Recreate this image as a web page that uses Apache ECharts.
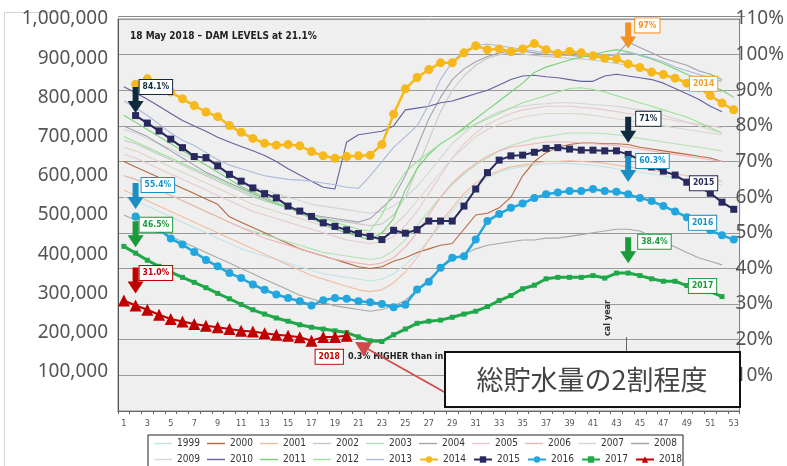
<!DOCTYPE html>
<html><head><meta charset="utf-8">
<script src="https://cdn.jsdelivr.net/npm/echarts@6/dist/echarts.min.js"></script>
<style>html,body{margin:0;padding:0;background:#fff}#c{width:787px;height:466px}</style>
</head><body><div id="c"></div>
<script>
const weeks = ['1','2','3','4','5','6','7','8','9','10','11','12','13','14','15','16','17','18','19','20','21','22','23','24','25','26','27','28','29','30','31','32','33','34','35','36','37','38','39','40','41','42','43','44','45','46','47','48','49','50','51','52','53'];
const leftTicks = [0,100000,200000,300000,400000,500000,600000,700000,800000,900000,1000000];
const pctTicks = [0,10,20,30,40,50,60,70,80,90,100,110];

const y1999 = [60,59,57.5,56,54.5,53,51.5,50,48.5,47,45.5,44.5,43.5,42.5,41.5,40.5,39.5,38.5,38,37.5,37,36.5,37,38.5,41,44,48,52,56,60,63,65.5,67,68,68.5,69,69.3,69.5,69.5,69.2,69,68.5,68,67.5,67,66.5,66,65.5,65,64.5,64,63.5,null];
const y2000 = [70,68.5,67,65.5,64,62.5,61,59.5,58,54.5,53,51.5,50,48.5,47,45.5,44.5,43.5,42.5,41.5,40.5,40,40.5,42,43,44.5,45.5,46.5,47,51,55,55.5,57,60,66,70,72.5,74,74.8,75.2,75.2,75,75,74.8,74,73.5,73,72.5,72,71.5,71,70,null];
const y2001 = [62,60.5,59,57.5,56,54.5,53,51.5,50,48.5,47,45.5,44,42.5,41,39.5,38,37,36,35,34,33.5,34,36,39,43,48,53,57,61,64,66,67.5,68.5,69,69.5,70,70,70.2,70,69.8,69.5,69,68.5,68,67.5,67,66.5,66,65.5,65,64.5,null];
const y2002 = [76,75,73.5,72,70.5,69,67.5,66,64.5,63,61.5,60,59,58,57,56,55,54,53.5,53,52.5,52,52.5,55,60,68,76,84,90,94,97,99,100,100.5,100.2,99.8,99.5,99.2,99,98.8,98.5,98,97.5,97,96.5,95.5,94.5,93.5,92.5,91.5,90.5,89.5,null];
const y2003 = [66,65,63.5,62,60.5,59,57.5,56,54.5,53,51.5,50.5,49.5,48.5,47.5,46.5,45.5,44.5,44,43.5,43,42.5,43,45,48,52,56,60,63.5,66.5,69,71,73,74.5,75.5,76.5,77,77.5,78,78,78,77.8,77.5,77,76.5,76,75.5,75,74.5,74,73.5,73,null];
const y2004 = [55,53.5,52,50.5,49,47.5,46,44.5,43,41.5,40,38.5,37,35.5,34,32.5,31.5,30.5,29.5,29,28.5,28,28.5,29.5,31,34,37,40,42.5,44,45.5,46.5,47,47.5,48,48,48.5,48.5,49,49.5,50,50.5,51,51,50.5,49,47.5,46,44.5,43,42,41,null];
const y2005 = [72,71,69.5,68,66.5,65,63.5,62,60.5,59,57.5,56,55,54,53,52,51,50,49,48,47.5,47,47.5,49,52,56,61,66,71,75,78,80.5,82,83.5,84.5,85,85.5,85.5,85.5,85.2,85,84.5,84,83.5,83,82.5,82,81.5,81,80.5,80,79.5,null];
const y2006 = [66,65,63.5,62,60.5,59,57.5,56,54.5,53,51.5,50,48.5,47.5,46.5,45.5,44.5,43.5,42.5,42,41.5,41,41.5,43,46,50,55,60,64,67,69.5,71.5,73,74,74.5,75,75.5,75.5,75.5,75.2,75,74.8,74.5,74,73.5,73,72.5,72,71.5,71,70.5,70,null];
const y2007 = [79,78,76.5,75,73.5,72,70.5,69,67.5,66,64.5,63,62,61,60,59,58,57.5,57,56.5,56,55.5,56,57.5,60,63,67,71,75,78,80.5,82.5,84,85,85.5,86,86.2,86.5,86.5,86.3,86,85.8,85.5,85,84.5,84,83,82,81,80,79,78,null];
const y2008 = [80,78.5,77,75,73,71,69,67,65.5,64,62.5,61,59.5,58,57,56,55,54.5,54,53.5,53,54,57,60,66,74,82,88,93,96,98,99.5,100.5,101,101,100.5,100,100,99.8,99.5,99.5,99.5,100,103.5,102,100.5,99,98,97,95.5,94.5,93,null];
const y2009 = [74,73,71.5,70,68.5,67,65.5,64,62.5,61,59.5,58,57,56,55,54,53,52,51,50.5,50,49.5,50,52,55,59,63,67,71,74,77,79,80.5,81.5,82.5,83,83.5,83.5,83.5,83.3,83,82.5,82,81.5,81,80.5,80,79.5,79,78.5,78,77.5,null];
const y2010 = [91,89.3,87.5,85.5,83.5,81.5,80,78.5,76.8,75.5,74.2,73,71.7,70,68,66.2,64.5,62.8,62.3,75.5,77.5,78,78.5,80,84.5,85,85.5,86.5,87,88,89,90,91.5,93,94,94.2,93.8,93.5,93,92.5,92.5,94,94.5,94,93.5,93,92,90.5,89,87.5,85.5,84,null];
const y2011 = [83,81,79,77,75,73,71,69,67,65,63,61.5,60,58.5,57,55.5,54,52.5,51,50,49,48,50,54,62,68,72,75,77,79.5,82,84.5,87,89.5,92,95,96.5,97.5,98.5,99.3,100,100.8,101.4,100.8,99.8,98.8,97.5,96,94.5,93,91.5,90,88];
const y2012 = [77,75.5,74,72.5,71,69.5,68,66.5,65,63.5,62,60.5,59,58,57,56,55,54,53,52,51,50.5,55,62,67,70,72.5,75,77,79,80.5,82,83.5,85,86.5,87.5,88.5,89.5,90.5,90.7,90.2,89.5,88.5,87.5,86.5,85.5,84.5,83.5,82.5,81,79.5,78,null];
const y2013 = [87,85,83,80.5,78,76,74.5,72.5,70.5,69,68,67,66,65.5,65,64.8,64.5,64,63.5,62.8,62.5,66,70,74,77,80,86,93,98,101,102.5,103,102.5,102,101.5,101,100.5,100.8,100.5,100.2,100,99.8,100,100.5,100,99,98,96.5,95.5,94.5,93.5,92.5,null];
const y2014 = [null,91.7,93.2,92.0,89.5,87.6,85.7,83.9,82.6,80.1,78.2,76.5,75.1,74.6,74.8,74.4,72.8,71.6,70.9,71.4,71.6,71.8,74.8,83.3,90.4,93.6,95.8,97.7,97.7,100.5,102.5,101.4,101.6,100.8,101.6,103.1,101.4,100.3,100.9,100.5,99.7,99.0,98.8,97.4,96.4,95.1,94.4,93.4,92.0,90.7,88.5,86.4,84.5];
const y2015 = [null,82.9,80.8,78.6,76.3,73.9,71.4,71.1,68.8,66.4,64.5,62.6,61.0,59.8,57.5,56.1,54.6,52.8,51.8,50.8,49.8,49.0,48.1,50.7,49.9,50.9,53.3,53.3,53.3,57.5,62.3,66.9,70.4,71.6,71.8,72.6,73.7,73.9,73.5,73.2,73.2,73.0,73.0,72.0,70.5,68.5,67.3,66.2,64.2,63.0,61.1,58.6,56.6];
const y2016 = [null,54.6,53,51,48.4,46.7,44.6,42.4,40.6,38.7,37.3,35.5,34.0,32.7,31.7,30.8,29.6,31.1,31.7,31.5,30.8,30.5,30.0,29.1,29.8,34.1,36.3,40.2,43.0,43.4,48.1,53.3,55.3,57.0,58.2,59.8,60.8,61.3,61.7,61.7,62.3,61.7,61.5,60.8,59.8,58.9,57.5,56.0,54.4,52.5,50.7,49.3,48.1];
const y2017 = [46.2,44.3,42.3,40.6,39.0,37.5,36.1,34.6,33.0,31.5,29.9,28.4,27.2,26.1,25.2,24.2,23.5,23.0,22.5,22.0,20.8,19.7,19.5,21.4,23.0,24.6,25.2,25.5,26.3,27.2,28.0,29.3,31.0,32.4,34.3,35.3,37.1,37.5,37.5,37.5,38.0,37.3,38.7,38.7,38.0,37.1,36.4,36.4,35.2,34.4,33.5,32.1,null];
const y2018 = [31.0,29.6,28.4,27.0,25.8,25.1,24.4,23.9,23.5,23.0,22.5,22.3,21.8,21.4,21.1,20.7,19.7,20.8,20.8,21.1];

const years = ['1999','2000','2001','2002','2003','2004','2005','2006','2007','2008','2009','2010','2011','2012','2013','2014','2015','2016','2017','2018'];
const thinData = [y1999,y2000,y2001,y2002,y2003,y2004,y2005,y2006,y2007,y2008,y2009,y2010,y2011,y2012,y2013];
const thinColors = ['#c2e4e4','#b5693f','#f2bca2','#c8c8c8','#b4e2b4','#a8a8a8','#e8caca','#f0b4b4','#d4d4d4','#a0a0b0','#ddd4ca','#62629e','#74d274','#9ae29a','#aabada'];

const NARROW = '"Liberation Sans Narrow","DejaVu Sans Condensed",sans-serif';
const ARROW = 'path://M5,0 L11,0 L11,14 L16,14 L8,26 L0,14 L5,14 Z';
const LINE_ICON = 'path://M0,0 L18,0 L18,1.4 L0,1.4 Z';

function arrowPt(week, val, color, text, off){
  return {coord:[week, val], symbol:ARROW, symbolSize:[16,26], itemStyle:{color:color},
    label:{show:true, position:'right', distance:0, offset:off, formatter:text,
      color:color, fontSize:8.5, fontWeight:'bold', fontFamily:NARROW,
      backgroundColor:'#fff', borderColor:color, borderWidth:1, padding:[3,3,2,3]}};
}
function yearPt(week, val, color, text, off){
  return {coord:[week, val], symbol:'circle', symbolSize:1, itemStyle:{color:'rgba(0,0,0,0)'},
    label:{show:true, position:'inside', offset:off||[0,0], formatter:text,
      color:color, fontSize:8.5, fontWeight:'bold', fontFamily:NARROW,
      backgroundColor:'#fff', borderColor:color, borderWidth:1, padding:[3,3,2,3]}};
}

const notes = [
  arrowPt('44',105.4,'#f39222','97%',[-1,-10]), yearPt('50',91.8,'#f0a030','2014',[5,0]),
  arrowPt('2',87.3,'#0f2b3d','84.1%',[-4,-13]), arrowPt('44',78.9,'#0f2b3d','71%',[0,-11]), yearPt('50',63.9,'#28295f','2015',[5,0]),
  arrowPt('2',60.3,'#1b8fc4','55.4%',[-2,-11]), arrowPt('44',67.9,'#1b8fc4','60.3%',[0,-8]), yearPt('50',52.8,'#1b8fc4','2016',[4,0]),
  arrowPt('2',49.6,'#1a9a3a','46.5%',[-4,-9.5]), arrowPt('44',45.1,'#1a9a3a','38.4%',[2,-8.5]), yearPt('50',35.1,'#1a9a3a','2017',[4,0]),
  arrowPt('2',36.6,'#c00000','31.0%',[-4,-7.5]), yearPt('18',15.2,'#c00000','2018',[6,0])
];

const series = [];
thinData.forEach((d,i)=>{
  series.push({name:years[i], type:'line', yAxisIndex:1, data:d, symbol:'none', showSymbol:false,
    lineStyle:{width:1.1, color:thinColors[i]}, itemStyle:{color:thinColors[i]}, z:2, silent:true});
});
const mainStyle = [
  {d:y2014, c:'#f6b81a', s:'circle', ss:9, w:2.5},
  {d:y2015, c:'#28295f', s:'rect', ss:7, w:2},
  {d:y2016, c:'#21a6df', s:'circle', ss:8, w:2.5},
  {d:y2017, c:'#1ea84a', s:'rect', ss:5, w:3},
  {d:y2018, c:'#c00000', s:'triangle', ss:12, w:2}
];
mainStyle.forEach((m,i)=>{
  series.push({name:years[15+i], type:'line', yAxisIndex:1, data:m.d, symbol:m.s, symbolSize:m.ss,
    showSymbol:true, showAllSymbol:true,
    lineStyle:{width:m.w, color:m.c}, itemStyle:{color:m.c}, z:3+i});
});
series.push({name:'notes', type:'line', yAxisIndex:1, data:[], z:20, silent:true,
  markPoint:{silent:true, z:30, data:notes}});

const legendData = years.map((y,i)=> i<15 ? {name:y, icon:LINE_ICON} : {name:y});

const chart = echarts.init(document.getElementById('c'));
chart.setOption({
  animation:false,
  backgroundColor:'#fff',
  grid:{left:118, right:42, top:19, bottom:55, show:true, backgroundColor:'#efefef', borderColor:'#8a8a8a', borderWidth:1},
  xAxis:{type:'category', data:weeks, boundaryGap:true,
    axisLine:{lineStyle:{color:'#666'}}, axisTick:{show:true, length:3, interval:0, lineStyle:{color:'#666'}},
    axisLabel:{interval:1, fontSize:9, color:'#555', fontFamily:NARROW, margin:8}},
  yAxis:[
    {type:'value', position:'left', min:leftTicks[0], max:leftTicks[leftTicks.length-1], interval:leftTicks[1]-leftTicks[0],
     splitLine:{show:false}, axisTick:{show:false}, axisLine:{show:true, lineStyle:{color:'#555'}},
     axisLabel:{showMinLabel:false, margin:10, fontSize:19, color:'#555', fontFamily:'"Noto Sans",sans-serif',
       formatter:v=>v.toLocaleString('en-US')}},
    {type:'value', position:'right', min:pctTicks[0], max:pctTicks[pctTicks.length-1], interval:pctTicks[1]-pctTicks[0],
     splitLine:{show:true, lineStyle:{color:'#9a9a9a', width:1}}, axisTick:{show:false}, axisLine:{show:true, lineStyle:{color:'#888'}},
     axisLabel:{showMinLabel:false, margin:-4, fontSize:19, color:'#555', fontFamily:'"Noto Sans",sans-serif', formatter:'{value}%'}}
  ],
  legend:{data:legendData, left:148, top:435, width:560, itemWidth:18, itemHeight:8, itemGap:6,
    padding:[3.5,0,4,6], borderColor:'#222', borderWidth:1, backgroundColor:'#fff',
    textStyle:{fontSize:10, color:'#333', fontFamily:NARROW, width:24, lineHeight:9}},
  series:series,
  graphic:[
    {type:'line', shape:{x1:4.5,y1:12,x2:4.5,y2:466}, style:{stroke:'#d4d4d4', lineWidth:1}, silent:true},
    {type:'line', shape:{x1:4,y1:12.5,x2:72,y2:12.5}, style:{stroke:'#d4d4d4', lineWidth:1}, silent:true},
    {type:'line', shape:{x1:118,y1:16.5,x2:745,y2:16.5}, style:{stroke:'#8a8a8a', lineWidth:1}, silent:true},
    {type:'text', left:130, top:31, style:{text:'18 May 2018 \u2013 DAM LEVELS at 21.1%', fill:'#222', font:'bold 10px '+NARROW}, z:10},
    {type:'text', left:348, top:352, style:{text:'0.3% HIGHER than in 2017', fill:'#222', font:'bold 9px '+NARROW}, z:10},
    {type:'text', x:603, y:336, rotation:Math.PI/2, style:{text:'cal year', fill:'#333', font:'bold 9px '+NARROW}, z:10},
    {type:'line', shape:{x1:626.5,y1:337,x2:626.5,y2:352}, style:{stroke:'#666', lineWidth:1}, z:10},
    {type:'line', shape:{x1:446,y1:393,x2:366,y2:348}, style:{stroke:'#d04848', lineWidth:1.6}, z:11},
    {type:'polygon', shape:{points:[[355,342],[364,356.5],[372,342.5]]}, style:{fill:'#d04848'}, z:11},
    {type:'rect', shape:{x:445,y:352,width:295,height:55}, style:{fill:'#fff', stroke:'#111', lineWidth:2}, z:20},
    {type:'text', x:592, y:380, style:{text:'総貯水量の2割程度', fill:'#444', font:'27px "Noto Sans CJK JP",sans-serif', textAlign:'center', textVerticalAlign:'middle'}, z:21}
  ]
});
</script></body></html>
